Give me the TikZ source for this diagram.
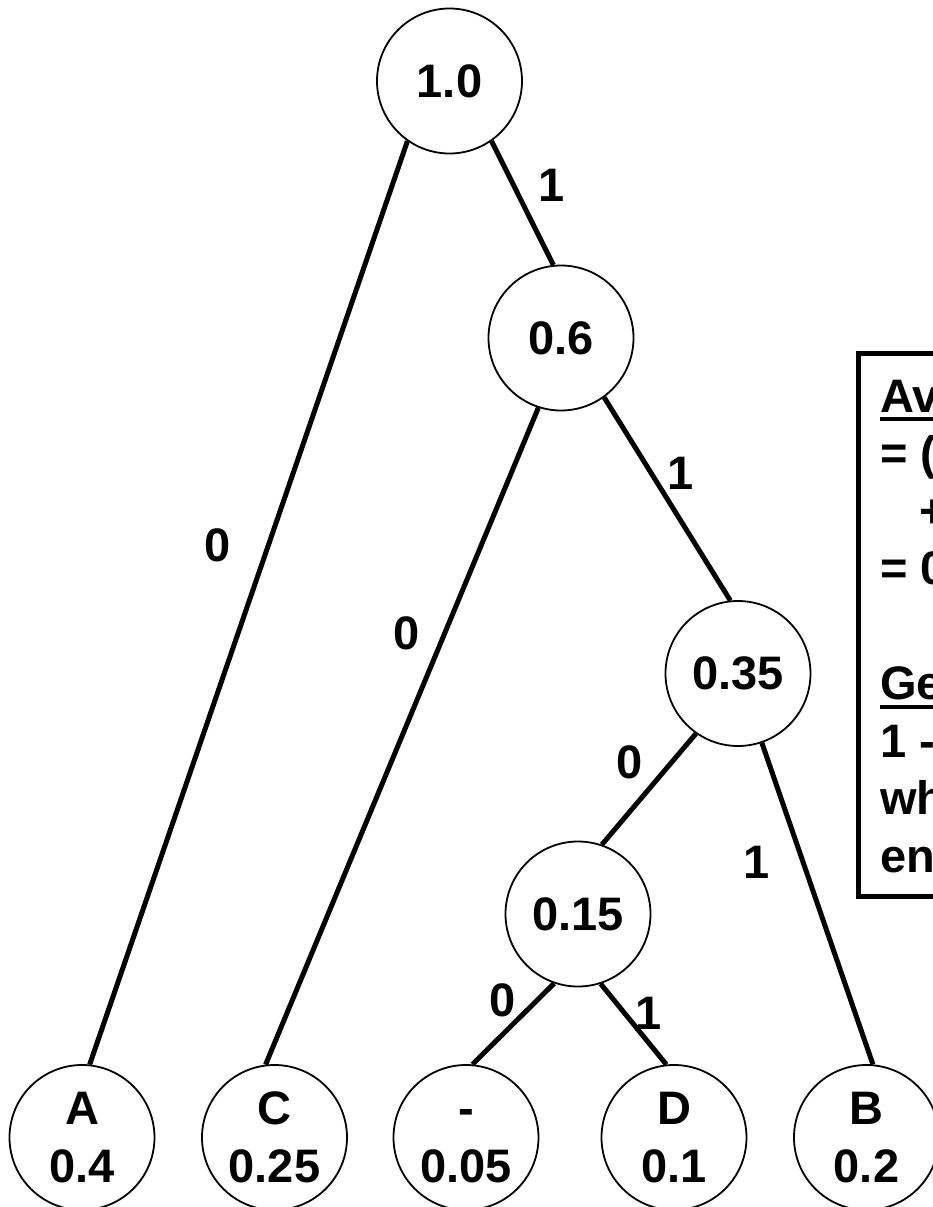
\documentclass[tikz,border=0pt]{standalone}
\usepackage{fontspec}
\setmainfont{Liberation Sans}
\newcommand{\ulbar}{\rlap{\rule[-9pt]{90pt}{4pt}}}

\begin{document}
\begin{tikzpicture}[x=1pt,y=-1pt,
    tnode/.style={draw,circle,line width=1.8pt,minimum size=145pt,inner sep=0pt,
                  align=center,font=\bfseries\fontsize{47}{58}\selectfont},
    bit/.style={inner sep=0pt,font=\bfseries\fontsize{47}{57.5}\selectfont},
    branch/.style={line width=5pt}]

        % fix the page to the picture
        \useasboundingbox (0,0) rectangle (933,1207);
        \clip (0,0) rectangle (933,1207);

        % inner nodes of the tree
        \node[tnode] (root) at (449.5,81) {1.0};
        \node[tnode] (n06) at (561,338) {0.6};
        \node[tnode] (n035) at (738,673.5) {0.35};
        \node[tnode] (n015) at (578,914) {0.15};

        % leaves with symbol and probability
        \node[tnode] (A) at (82,1137.5) {A\\0.4};
        \node[tnode] (C) at (274.5,1137.5) {C\\0.25};
        \node[tnode] (X) at (466,1137.5) {\vphantom{A}-\\0.05};
        \node[tnode] (D) at (674,1137.5) {D\\0.1};
        \node[tnode] (B) at (866.5,1137.5) {B\\0.2};

        % branches
        \draw[branch] (root.235) -- (A.84);
        \draw[branch] (root.305) -- (n06.96);
        \draw[branch] (n06.252) -- (C.97);
        \draw[branch] (n06.306) -- (n035.96);
        \draw[branch] (n035.235) -- (n015.71);
        \draw[branch] (n035.289) -- (B.85);
        \draw[branch] (n015.251) -- (X.85);
        \draw[branch] (n015.288) -- (D.96);

        % bits on the branches
        \node[bit] (b1) at (552,185) {1};
        \node[bit] (b2) at (218,545) {0};
        \node[bit] (b3) at (406.5,633) {0};
        \node[bit] (b4) at (681,473) {1};
        \node[bit] (b5) at (630,762) {0};
        \node[bit] (b6) at (757,862) {1};
        \node[bit] (b7) at (503,1000) {0};
        \node[bit] (b8) at (649,1013) {1};

        % box with the average length (anchored on its last line)
        \draw[line width=5pt] (858,353) rectangle (990,896.5);
        \node[bit,anchor=base west,align=left] (avg) at (880,872)
             {\ulbar Av\\= (\\\hspace*{39pt}+\\= 0\\[57.5pt]\ulbar Ge\\1 -\\wh\\en};

\end{tikzpicture}
\end{document}
